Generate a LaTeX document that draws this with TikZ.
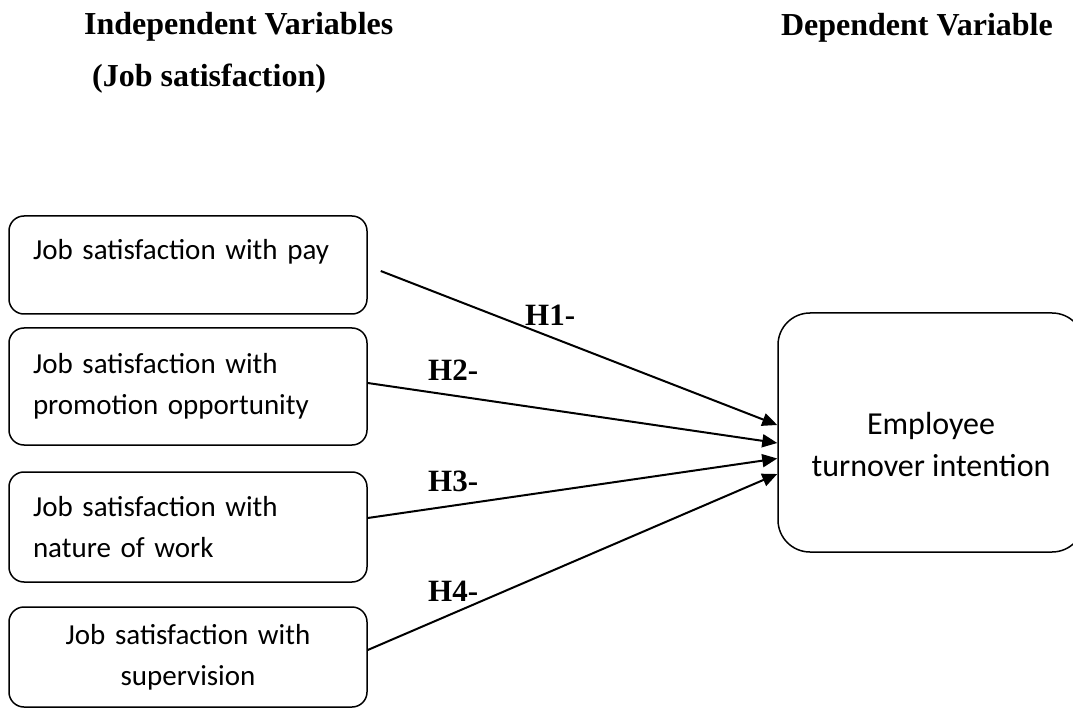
\documentclass[tikz,border=0pt]{standalone}
\usepackage{fontspec}
\setmainfont{Liberation Serif}
\newfontfamily\boxfont{Carlito}
\usetikzlibrary{arrows.meta,calc}

\begin{document}
\begin{tikzpicture}[x=1pt,y=-1pt,
  ivbox/.style={draw,line width=1.5pt,rounded corners=15pt,text width=310pt,inner xsep=24pt,inner ysep=0pt,font=\boxfont\fontsize{29}{41}\selectfont},
  dvbox/.style={draw,line width=1.5pt,rounded corners=32pt,minimum width=306pt,minimum height=239pt,inner sep=0pt,align=center,font=\boxfont\fontsize{32}{42}\selectfont},
  head/.style={inner sep=0pt,font=\bfseries\fontsize{32}{38}\selectfont},
  hyp/.style={inner sep=0pt,font=\bfseries\fontsize{31}{36}\selectfont},
  effect/.style={line width=2pt,-{Triangle[length=15pt,width=13pt]}}]
  \useasboundingbox (0,0) rectangle (1073,708);
  \node (ivhead) [head,anchor=base west] at (84,35) {Independent Variables};
  \node (ivsub) [head,anchor=base west] at (92,87) {(Job satisfaction)};
  \node (dvhead) [head,anchor=base east] at (1053,36) {Dependent Variable};
  \node (pay) [ivbox,align=left,minimum height=98pt,text height=22pt,text depth=32pt] at (188,265) {Job satisfaction with pay};
  \node (promotion) [ivbox,align=left,minimum height=117pt] at (188,386.5) {Job satisfaction with\\promotion opportunity};
  \node (work) [ivbox,align=left,minimum height=110pt] at (188,527) {Job satisfaction with\\nature of work};
  \node (supervision) [ivbox,align=center,minimum height=100pt] at (188,657) {Job satisfaction with\\supervision};
  \node (turnover) [dvbox,text height=89pt] at (931,432.5) {Employee\\turnover intention};
  \node (h1) [hyp,anchor=base west] at (525,326) {H1-};
  \node (h2) [hyp,anchor=base west] at (428,381) {H2-};
  \node (h3) [hyp,anchor=base west] at (428,491) {H3-};
  \node (h4) [hyp,anchor=base west] at (428,601) {H4-};
  \draw [effect] ($(pay.east)+(13,6)$) -- ($(turnover.west)+(0,-7.5)$);
  \draw [effect] ($(promotion.east)+(0,-3.5)$) -- ($(turnover.west)+(0,10.5)$);
  \draw [effect] ($(work.east)+(0,-9)$) -- ($(turnover.west)+(0,26)$);
  \draw [effect] ($(supervision.east)+(0,-7)$) -- ($(turnover.west)+(0,41.5)$);
\end{tikzpicture}
\end{document}
